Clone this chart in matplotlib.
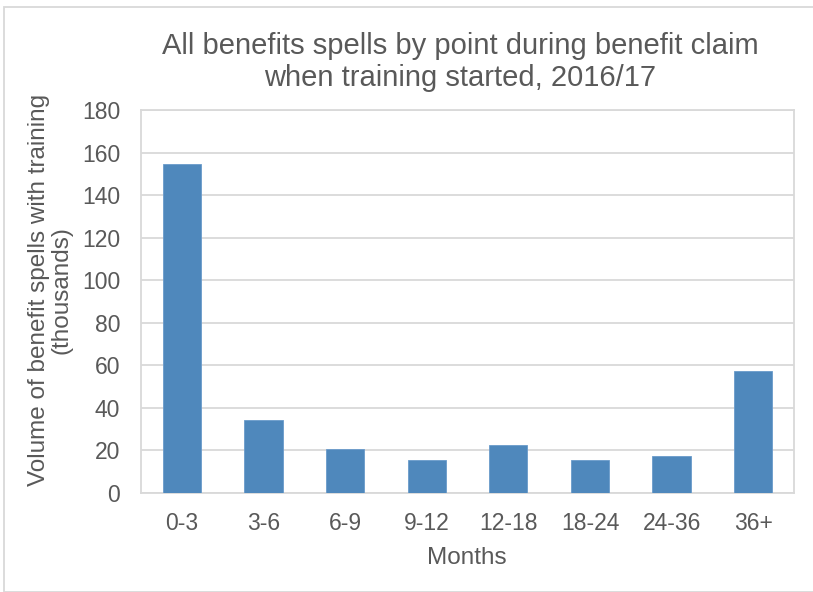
import matplotlib

matplotlib.use("Agg")
import matplotlib.pyplot as plt
from matplotlib.patches import Rectangle

# Benefit spells with training, by months into the claim (thousands)
categories = ["0-3", "3-6", "6-9", "9-12", "12-18", "18-24", "24-36", "36+"]
spells = [154.5, 34.5, 20.5, 15.5, 22.5, 15.5, 17.5, 57.5]
y_ticks = list(range(0, 181, 20))

TEXT = "#595959"
GRID = "#D9D9D9"
BAR = "#4F88BC"

plt.rcParams["font.family"] = ["Liberation Sans", "DejaVu Sans"]

W, H = 813, 592
fig = plt.figure(figsize=(W / 100, H / 100), dpi=100)

# chart-area border (runs off the right/bottom edge like the source crop)
fig.patches.append(
    Rectangle((4 / W, 0), 1.2, 1 - 7 / H, transform=fig.transFigure,
              fill=False, edgecolor=GRID, linewidth=1.3)
)

ax = fig.add_axes([141 / W, 1 - 493 / H, (794 - 141) / W, (493 - 110) / H])
x = range(len(categories))
ax.bar(x, spells, width=0.47, color=BAR, edgecolor="#6A9BCB", linewidth=0.6, zorder=3)

ax.set_xlim(-0.5, len(categories) - 0.5)
ax.set_ylim(0, 180)
ax.set_yticks(y_ticks)
ax.set_xticks(list(x))
ax.set_xticklabels(categories)
ax.tick_params(length=0, labelsize=16.5, colors=TEXT)
ax.tick_params(axis="y", pad=15)
ax.tick_params(axis="x", pad=14)
ax.grid(axis="y", color=GRID, linewidth=1.3, zorder=0)
for s in ax.spines.values():
    s.set_color(GRID)
    s.set_linewidth(1.3)

fig.text(460 / W, 1 - 62 / H,
         "All benefits spells by point during benefit claim\nwhen training started, 2016/17",
         ha="center", va="center", fontsize=21, color=TEXT, linespacing=1.2)
fig.text(467 / W, 1 - 558 / H, "Months", ha="center", va="center",
         fontsize=17.5, color=TEXT)
fig.text(50 / W, 1 - 290 / H, "Volume of benefit spells with training\n(thousands)",
         ha="center", va="center", rotation=90, fontsize=17.5, color=TEXT,
         linespacing=1.0)

fig.savefig("out.png", dpi=100)
